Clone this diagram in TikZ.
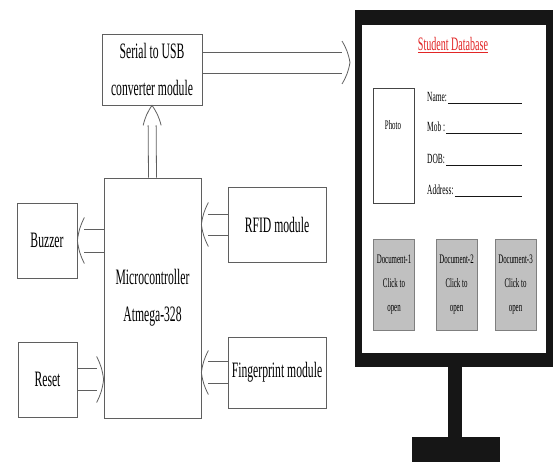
\documentclass[tikz,border=0pt]{standalone}
\usepackage{fontspec}
\setmainfont{Liberation Serif}
\usepackage{graphicx}
\usepackage{xcolor}
\definecolor{wire}{RGB}{95,95,95}
\definecolor{docgrey}{RGB}{192,192,192}
\definecolor{dbred}{RGB}{226,38,38}
\definecolor{ink}{RGB}{22,22,22}
\usepackage{tikz}
\usetikzlibrary{calc,positioning}
%% squeezed text, as in the scanned figure
\newcommand{\sq}[1]{\scalebox{0.53}[1]{#1}}
%% hollow block arrow: from, to, half gap, half head, head length
\newcommand{\hollowarrow}[5]{%
  \coordinate (ha-h) at ($(#2)!#5!(#1)$);
  \draw[conn] ($(#1)!#3!90:(#2)$) -- ($(ha-h)!#3!-90:(#1)$);
  \draw[conn] ($(#1)!#3!-90:(#2)$) -- ($(ha-h)!#3!90:(#1)$);
  \draw[conn] ($(ha-h)!#4!-90:(#1)$) to[bend left=10] (#2) to[bend left=10] ($(ha-h)!#4!90:(#1)$);
}

\begin{document}
\begin{tikzpicture}[x=1pt,y=-1pt,
  blk/.style={rectangle,draw=wire,line width=0.8pt,inner sep=0pt,align=center,
              font=\fontsize{22}{37}\selectfont},
  docbox/.style={rectangle,draw=wire!80,fill=docgrey,line width=0.8pt,inner sep=0pt,
                 minimum width=41pt,minimum height=91pt,align=center,
                 font=\fontsize{13}{24}\selectfont},
  fld/.style={anchor=base west,inner sep=0pt,font=\fontsize{14}{16}\selectfont},
  conn/.style={draw=wire,line width=0.8pt},
]
  \useasboundingbox (0,0) rectangle (554,463);

  %% hardware side
  \node[blk,minimum width=100pt,minimum height=71pt] (usb) at (152,69.5) {\sq{Serial to USB}\\\sq{converter module}};
  \node[blk,minimum width=97pt,minimum height=240pt] (mcu) at (152.5,298) {\sq{Microcontroller}\\\sq{Atmega-328}};
  \node[blk,minimum width=60pt,minimum height=75pt] (buzzer) at (47,240.5) {\sq{Buzzer}};
  \node[blk,minimum width=59pt,minimum height=75pt] (reset) at (47.5,379.5) {\sq{Reset}};
  \node[blk,minimum width=98pt,minimum height=75pt] (rfid) at (277,224.5) {\sq{RFID module}};
  \node[blk,minimum width=98pt,minimum height=71pt] (finger) at (277,372.5) {\sq{Fingerprint module}};

  %% monitor
  \node[fill=ink,minimum width=198pt,minimum height=357pt,inner sep=0pt,anchor=north west] (screen) at (355,10) {};
  \node[fill=white,minimum width=184pt,minimum height=328pt,inner sep=0pt,anchor=north west] (panel) at (362,25) {};
  \fill[ink] (448,367) rectangle (462,437);
  \fill[ink] (412,437) rectangle (500,462);

  \node[font=\fontsize{19}{20}\selectfont,text=dbred] (title) at (453,45) {\sq{\underline{Student Database}}};
  \node[draw=ink!80,line width=0.6pt,minimum width=41pt,minimum height=115pt,inner sep=0pt,anchor=north west] (photo) at (373,88) {};
  \node[font=\fontsize{13}{14}\selectfont] (phototxt) at (393,125) {\sq{Photo}};

  \coordinate (fieldend) at (522,0);
  \node[fld] (fname) at (427,101.5) {\sq{Name:}};
  \node[fld] (fmob) at (427,131.5) {\sq{Mob :}};
  \node[fld] (fdob) at (427,163.5) {\sq{DOB:}};
  \node[fld] (faddr) at (427,194.5) {\sq{Address:}};
  \foreach \f in {fname,fmob,fdob,faddr}
    \draw[ink,line width=1pt] ($(\f.base east)+(1,2)$) -- ($(\f.base east -| fieldend)+(0,2)$);

  \foreach \i/\x in {1/394,2/456.5,3/515.5}
    \node[docbox] (doc\i) at (\x,284.5) {\sq{Document-\i}\\\sq{Click to}\\\sq{open}};

  %% block arrows
  \coordinate (bzA) at (mcu.west |- buzzer.east);
  \coordinate (rsB) at (mcu.west |- reset.east);
  \coordinate (rfB) at (mcu.east |- rfid.west);
  \coordinate (fpB) at (mcu.east |- finger.west);
  \coordinate (dbA) at ($(usb.east)+(0,-7)$);
  \coordinate (dbB) at ($(screen.west |- dbA)+(-5,0)$);
  \hollowarrow{bzA}{buzzer.east}{11.5pt}{23pt}{7pt}
  \hollowarrow{reset.east}{rsB}{11pt}{23pt}{7pt}
  \hollowarrow{rfid.west}{rfB}{10.5pt}{22pt}{7pt}
  \hollowarrow{finger.west}{fpB}{11pt}{22pt}{7pt}
  \hollowarrow{mcu.north}{usb.south}{4pt}{9pt}{20pt}
  \hollowarrow{dbA}{dbB}{10.5pt}{21.5pt}{8pt}
\end{tikzpicture}
\end{document}
